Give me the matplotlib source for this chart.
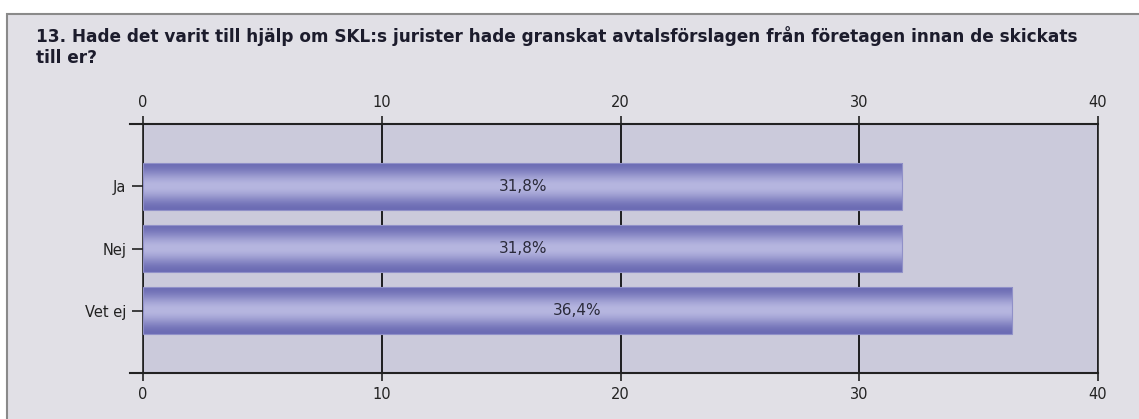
import numpy as np
import matplotlib
matplotlib.use('Agg')
import matplotlib.pyplot as plt
from matplotlib.patches import Rectangle
from matplotlib.colors import LinearSegmentedColormap

#chart data
categories=['Ja','Nej','Vet ej']
values=[31.8,31.8,36.4]
labels=['31,8%','31,8%','36,4%']
xticks=[0,10,20,30,40]
title='13. Hade det varit till hjälp om SKL:s jurister hade granskat avtalsförslagen från företagen innan de skickats\ntill er?'

W,H=1139,419
fig=plt.figure(figsize=(W/100,H/100),dpi=100)
fig.patch.set_facecolor('white')

#gray panel with border
panel=Rectangle((7/W,-0.01),1-7/W+0.01,1-14/H+0.01,transform=fig.transFigure,
                facecolor='#e1e0e6',edgecolor='#8a8a8a',linewidth=1.5,zorder=-10)
fig.patches.append(panel)

fig.text(36/W,1-26/H,title,fontsize=12.2,fontweight='bold',color='#1c1c2c',
         va='top',ha='left',linespacing=1.2)

#plot area in pixel coords
x0,x1,y0,y1=143,1098,124,373
ax=fig.add_axes([x0/W,1-y1/H,(x1-x0)/W,(y1-y0)/H])
ax.set_facecolor('#cbcadb')

pos=np.arange(len(categories))
bh=0.76
bars=ax.barh(pos,values,height=bh,color='none',edgecolor='#9090c8',linewidth=0.8,zorder=3)

#vertical gradient for each bar
t=np.linspace(0,1,64)
grad=0.5-0.5*np.cos(2*np.pi*t)
cmap=LinearSegmentedColormap.from_list('bar',['#6c6cb4','#b6b6e0'])
for b in bars:
    x,y=b.get_x(),b.get_y()
    w,h=b.get_width(),b.get_height()
    im=ax.imshow(grad.reshape(-1,1),cmap=cmap,aspect='auto',
                 extent=[x,x+w,y+h,y],zorder=2,interpolation='bicubic')
    im.set_clip_path(b)

for p,v,lab in zip(pos,values,labels):
    ax.text(v/2,p,lab,ha='center',va='center',fontsize=11,color='#2a2a3a',zorder=4)

ax.set_xlim(0,40)
ax.set_ylim(3.0,-1.0)
ax.set_xticks(xticks)
ax.set_yticks(pos)
ax.set_yticklabels(categories)
ax.grid(axis='x',color='black',linewidth=1.2,zorder=1)
ax.set_axisbelow(True)
ax.tick_params(axis='x',top=True,labeltop=True,bottom=True,labelbottom=True,
               direction='out',length=6,width=1.2,labelsize=10.5,pad=4,colors='#222222')
ax.tick_params(axis='y',left=True,direction='out',length=8,width=1.2,labelsize=10.5,
               pad=4,colors='#222222')
for s in ['top','bottom']:
    ax.spines[s].set_color('#222222')
    ax.spines[s].set_linewidth(1.5)
for s in ['left','right']:
    ax.spines[s].set_color('#222222')
    ax.spines[s].set_linewidth(1.2)

#axis lines stick out to the left a bit
ax.axhline(-1.0,xmin=-0.014,xmax=0,color='#222222',linewidth=1.5,clip_on=False)
ax.axhline(3.0,xmin=-0.014,xmax=0,color='#222222',linewidth=1.5,clip_on=False)

fig.savefig('out.png',dpi=100)
